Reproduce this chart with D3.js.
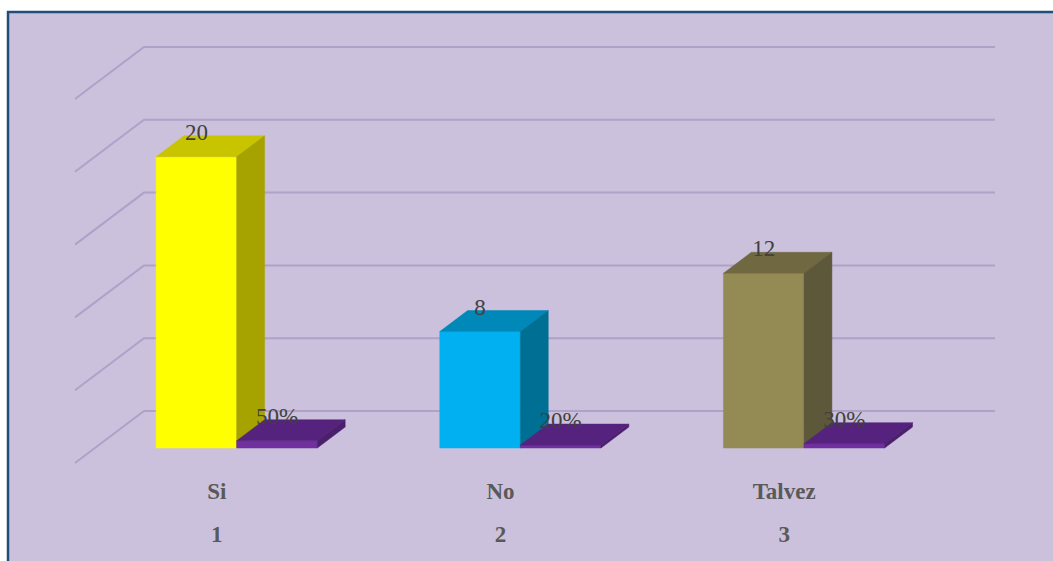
<!DOCTYPE html>
<html><head><meta charset="utf-8">
<script src="https://cdn.jsdelivr.net/npm/d3@7"></script>
<style>html,body{margin:0;padding:0;background:#fff;}svg{display:block;}</style>
</head><body>
<script>
const categories = ["Si", "No", "Talvez"];
const categoryNumbers = ["1", "2", "3"];
const counts = [20, 8, 12];
const percents = [0.5, 0.2, 0.3];
const percentLabels = ["50%", "20%", "30%"];
const gridTicks = [0, 5, 10, 15, 20, 25];

const W = 1053, H = 561;
const svg = d3.select("body").append("svg").attr("width", W).attr("height", H);

// frame
svg.append("rect").attr("x", 7).attr("y", 11).attr("width", W - 7).attr("height", H - 11).attr("fill", "#cbc1dc");
svg.append("line").attr("x1", 7).attr("x2", W).attr("y1", 12).attr("y2", 12).attr("stroke", "#1f4e79").attr("stroke-width", 2.5);
svg.append("line").attr("x1", 8).attr("x2", 8).attr("y1", 11).attr("y2", H).attr("stroke", "#1f4e79").attr("stroke-width", 2.5);

// 3D oblique geometry
const floorFrontY = 463, depthDX = 69, depthDY = 52;
const x0 = 75, x1 = 926;
const h = d3.scaleLinear().domain([0, 25]).range([0, 364]);
const proj = (x, t, v) => [x + depthDX * t, floorFrontY - depthDY * t - h(v)];

const xBand = d3.scaleBand().domain(categories).range([x0, x1]).padding(0);
const sub = d3.scaleBand().domain(["count", "pct"]).range([0, xBand.bandwidth()]).paddingInner(0).paddingOuter(0.76);
const tFront = 0.288, tBack = 0.692;

// gridlines
const g = svg.append("g");
gridTicks.forEach(v => {
  const a = proj(x0, 0, v), b = proj(x0, 1, v), c = proj(x1, 1, v);
  g.append("path").attr("d", `M${a[0]},${a[1]}L${b[0]},${b[1]}L${c[0]},${c[1]}`)
    .attr("fill", "none").attr("stroke", "#afa1c8").attr("stroke-width", 2);
});

const palettes = {
  count: [
    { front: "#ffff00", top: "#c8c400", side: "#a6a200" },
    { front: "#00b0f0", top: "#0088b8", side: "#006f94" },
    { front: "#948a54", top: "#6f6841", side: "#5d583a" }
  ],
  pct: { front: "#7030a0", top: "#55237d", side: "#4a1f6c" }
};

const bars = [];
categories.forEach((c, i) => {
  bars.push({ cat: c, key: "count", v: counts[i], label: String(counts[i]), col: palettes.count[i] });
  bars.push({ cat: c, key: "pct", v: percents[i], label: percentLabels[i], col: palettes.pct });
});

const pts = a => a.map(p => p.join(",")).join(" ");
const bg = svg.append("g");
bars.forEach(b => {
  const xl = xBand(b.cat) + sub(b.key), xr = xl + sub.bandwidth();
  const fbl = proj(xl, tFront, 0), fbr = proj(xr, tFront, 0), ftl = proj(xl, tFront, b.v), ftr = proj(xr, tFront, b.v);
  const bbr = proj(xr, tBack, 0), btl = proj(xl, tBack, b.v), btr = proj(xr, tBack, b.v);
  bg.append("polygon").attr("points", pts([fbl, fbr, ftr, ftl])).attr("fill", b.col.front).attr("stroke", b.col.front).attr("stroke-width", 0.5);
  bg.append("polygon").attr("points", pts([ftl, ftr, btr, btl])).attr("fill", b.col.top).attr("stroke", b.col.top).attr("stroke-width", 0.5);
  bg.append("polygon").attr("points", pts([fbr, bbr, btr, ftr])).attr("fill", b.col.side).attr("stroke", b.col.side).attr("stroke-width", 0.5);
  b.lx = (ftl[0] + ftr[0]) / 2; b.ly = ftl[1] - 17;
});

// data labels
svg.append("g").selectAll("text").data(bars).join("text")
  .attr("x", d => d.lx).attr("y", d => d.ly).attr("text-anchor", "middle")
  .attr("font-family", "'Liberation Serif', 'Times New Roman', serif").attr("font-size", 23)
  .attr("fill", "#404040").text(d => d.label);

// category labels
const cl = svg.append("g").attr("font-family", "'Liberation Serif', 'Times New Roman', serif")
  .attr("font-size", 23).attr("font-weight", "bold").attr("fill", "#595959").attr("text-anchor", "middle");
categories.forEach((c, i) => {
  const cx = xBand(c) + xBand.bandwidth() / 2;
  cl.append("text").attr("x", cx).attr("y", 499).text(c);
  cl.append("text").attr("x", cx).attr("y", 542).text(categoryNumbers[i]);
});
</script>
</body></html>
